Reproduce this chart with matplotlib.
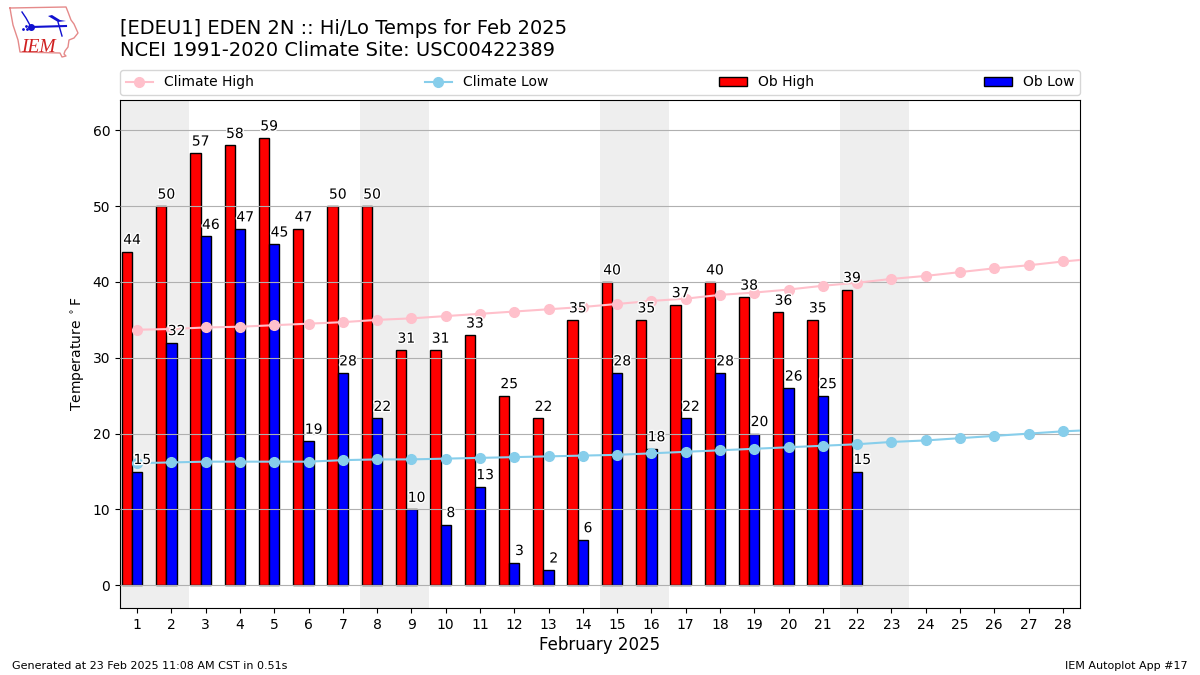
#!/usr/bin/env python
# hi/lo temperatures against climatology
import numpy as np
import matplotlib
matplotlib.use("Agg")
import matplotlib.pyplot as plt
import matplotlib.patheffects as pe

days = np.arange(1, 29)
ob_days = np.arange(1, 23)
ob_high = [44, 50, 57, 58, 59, 47, 50, 50, 31, 31, 33, 25, 22, 35, 40, 35, 37, 40, 38, 36, 35, 39]
ob_low = [15, 32, 46, 47, 45, 19, 28, 22, 10, 8, 13, 3, 2, 6, 28, 18, 22, 28, 20, 26, 25, 15]

# includes Mar 1, clipped by the right edge
clim_days = np.arange(1, 30)
clim_high = [33.7, 33.8, 34.0, 34.1, 34.3, 34.5, 34.7, 35.0, 35.2, 35.5, 35.8, 36.1, 36.4, 36.7, 37.1,
             37.5, 37.8, 38.3, 38.6, 39.0, 39.5, 39.9, 40.4, 40.8, 41.3, 41.8, 42.2, 42.7, 43.1]
clim_low = [16.1, 16.2, 16.3, 16.3, 16.3, 16.3, 16.5, 16.6, 16.6, 16.7, 16.8, 16.9, 17.0, 17.1, 17.2,
            17.4, 17.6, 17.8, 18.0, 18.2, 18.4, 18.6, 18.9, 19.1, 19.4, 19.7, 20.0, 20.3, 20.5]
weekends = [(1, 2), (8, 9), (15, 16), (22, 23)]

width = 0.3

fig = plt.figure(figsize=(12, 6.75), dpi=100)
ax = fig.add_axes([0.1, 1 - 608 / 675, 0.8, 508 / 675])

for start, end in weekends:
    ax.axvspan(start - 0.5, end + 0.5, color="#EEEEEE", lw=0, zorder=0)

ax.grid(axis="y", zorder=1)
ax.set_axisbelow(False)
for line in ax.get_ygridlines():
    line.set_zorder(1)

ax.bar(ob_days - width, ob_high, width, color="r", edgecolor="k", label="Ob High", zorder=2)
ax.bar(ob_days, ob_low, width, color="b", edgecolor="k", label="Ob Low", zorder=2)
ax.plot(clim_days, clim_high, color="pink", marker="o", lw=1.5, ms=7, label="Climate High", zorder=3)
ax.plot(clim_days, clim_low, color="skyblue", marker="o", lw=1.5, ms=7, label="Climate Low", zorder=3)

stroke = [pe.withStroke(linewidth=2, foreground="white")]
for x, val in zip(ob_days, ob_high):
    ax.text(x - width / 2, val + 0.6, str(val), ha="center", va="bottom", zorder=4, path_effects=stroke)
for x, val in zip(ob_days, ob_low):
    ax.text(x + width / 2, val + 0.6, str(val), ha="center", va="bottom", zorder=4, path_effects=stroke)

ax.set_xlim(0.5, 28.5)
ax.set_ylim(-3, 64)
ax.set_xticks(days)
ax.set_xlabel("February 2025", fontsize=12, labelpad=3)
ax.set_ylabel(r"Temperature $^\circ$F")
ax.legend(loc="lower left", bbox_to_anchor=(0, 1 + 5 / 508, 1, 25 / 508), mode="expand", ncol=4,
          borderaxespad=0, borderpad=0.4)

fig.text(0.1, 1 - 34.5 / 675, "[EDEU1] EDEN 2N :: Hi/Lo Temps for Feb 2025", fontsize=14, va="baseline")
fig.text(0.1, 1 - 56.5 / 675, "NCEI 1991-2020 Climate Site: USC00422389", fontsize=14, va="baseline")
fig.text(0.01, 0.0065, "Generated at 23 Feb 2025 11:08 AM CST in 0.51s", fontsize=8, va="bottom")
fig.text(0.99, 0.0065, "IEM Autoplot App #17", fontsize=8, ha="right", va="bottom")

# logo, drawn in pixel coordinates
logo = fig.add_axes([0, 0, 1, 1], zorder=5)
logo.set_xlim(0, 1200)
logo.set_ylim(675, 0)
logo.axis("off")
outline_x = [10, 66, 68, 71, 74, 78, 74, 69, 68, 65, 64, 66, 62, 60, 20, 18, 13, 11, 10]
outline_y = [8, 7, 12, 20, 24, 33, 38, 40, 47, 51, 54, 56, 57, 53, 52, 40, 25, 14, 8]
logo.plot(outline_x, outline_y, color="#E58A8A", lw=1)
logo.plot([31, 66], [27, 26], color="#1010D0", lw=1.5)
logo.plot([31, 26, 22], [27, 18, 12], color="#1010D0", lw=1)
logo.fill([48, 52, 60, 66, 58], [16, 15, 20, 21, 22], color="#1010D0", lw=0)
logo.plot([58, 60, 62], [22, 29, 36], color="#1010D0", lw=1)
logo.plot([31], [27], "o", color="#1010D0", ms=4)
logo.plot([23, 26, 27], [29, 26, 29], ".", color="#1010D0", ms=2)
logo.text(21, 52, "IEM", color="#D02020", family="Liberation Serif", style="italic", fontsize=14, va="baseline")

fig.savefig("out.png", dpi=100)
